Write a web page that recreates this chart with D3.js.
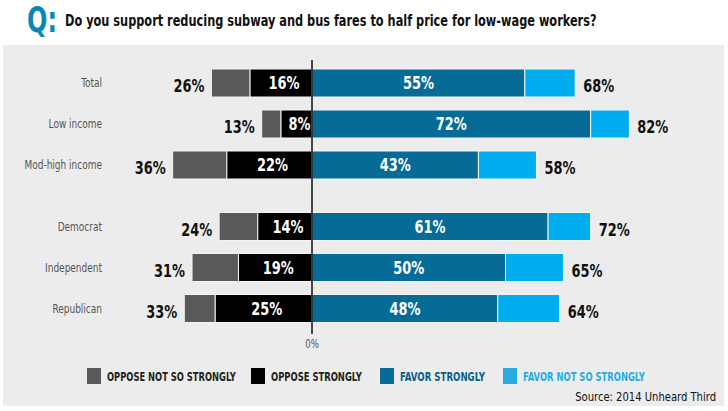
<!DOCTYPE html>
<html lang="en">
<head>
<meta charset="UTF-8">
<title>Half-price fares</title>
<script src="https://d3js.org/d3.v7.min.js"></script>
<style>
	body { margin: 0; padding: 0; background: #fff; }
	svg { display: block; }
	text { font-family: "Liberation Sans Narrow", "DejaVu Sans Condensed", "Arial Narrow", sans-serif; font-stretch: condensed; }
</style>
</head>
<body>
<div id="chart"></div>
<script>
	const categories = ["Total", "Low income", "Mod-high income", "Democrat", "Independent", "Republican"];
	const groups = [0, 0, 0, 1, 1, 1];
	const opposeTotal = [26, 13, 36, 24, 31, 33];
	const opposeStrong = [16, 8, 22, 14, 19, 25];
	const favorStrong = [55, 72, 43, 61, 50, 48];
	const favorTotal = [68, 82, 58, 72, 65, 64];
	const legendLabels = ["OPPOSE NOT SO STRONGLY", "OPPOSE STRONGLY", "FAVOR STRONGLY", "FAVOR NOT SO STRONGLY"];

	const colors = {
		opposeSoft: "#58595b",
		opposeStrong: "#000000",
		favorStrong: "#066b96",
		favorSoft: "#00aeef"
	};

	const width = 728, height = 411;
	const squeeze = 0.8; // fake a condensed face

	const svg = d3.select("#chart").append("svg")
		.attr("width", width)
		.attr("height", height);

	// squeeze a text horizontally so it spans w pixels from (px, py)
	function fitText(sel, px, py, w, anchor) {
		const natural = sel.node().getComputedTextLength();
		const k = w / natural;
		sel.attr("text-anchor", anchor || "start")
			.attr("transform", `translate(${px},${py}) scale(${k},1)`);
		return sel;
	}

	// panel
	svg.append("rect")
		.attr("x", 3).attr("y", 45)
		.attr("width", 721).attr("height", 361)
		.attr("fill", "#ececec");

	// title
	const q = svg.append("text")
		.attr("font-size", 35).attr("font-weight", "bold")
		.attr("fill", "#0a86b6")
		.text("Q:");
	fitText(q, 27, 32, 30);
	const title = svg.append("text")
		.attr("font-size", 16).attr("font-weight", "bold")
		.attr("fill", "#111")
		.text("Do you support reducing subway and bus fares to half price for low-wage workers?");
	fitText(title, 65, 26, 532);

	const x = d3.scaleLinear().domain([-40, 100]).range([312 - 40 * 3.87, 312 + 100 * 3.87]);
	const y = d3.scaleLinear().domain([0, 1]).range([83, 124]);
	const barH = 28;

	const rows = categories.map((c, i) => ({
		name: c,
		pos: i + groups[i] * 0.5,
		ot: opposeTotal[i], os: opposeStrong[i], fs: favorStrong[i], ft: favorTotal[i]
	}));

	const at = (px, py) => `translate(${px},${py}) scale(${squeeze},1)`;

	const g = svg.append("g");

	const row = g.selectAll("g.row").data(rows).enter().append("g").attr("class", "row");

	// category labels
	row.append("text")
		.attr("transform", d => at(102, y(d.pos) + 4))
		.attr("text-anchor", "end")
		.attr("font-size", 12.5)
		.attr("fill", "#555")
		.text(d => d.name);

	const segs = [
		{ key: "opposeSoft", x0: d => -d.ot, x1: d => -d.os },
		{ key: "opposeStrong", x0: d => -d.os, x1: d => 0 },
		{ key: "favorStrong", x0: d => 0, x1: d => d.fs },
		{ key: "favorSoft", x0: d => d.fs, x1: d => d.ft }
	];

	segs.forEach(s => {
		row.append("rect")
			.attr("x", d => x(s.x0(d)))
			.attr("y", d => y(d.pos) - barH / 2)
			.attr("width", d => x(s.x1(d)) - x(s.x0(d)))
			.attr("height", barH)
			.attr("fill", colors[s.key])
			.attr("stroke", "#f4f4f4")
			.attr("stroke-width", 1);
	});

	// inner labels
	row.append("text")
		.attr("transform", d => at((x(-d.os) + x(0)) / 2 + 3, y(d.pos) + 6))
		.attr("text-anchor", "middle")
		.attr("font-size", 18).attr("font-weight", "bold")
		.attr("fill", "#fff")
		.text(d => d.os + "%");
	row.append("text")
		.attr("transform", d => at((x(0) + x(d.fs)) / 2, y(d.pos) + 6))
		.attr("text-anchor", "middle")
		.attr("font-size", 18).attr("font-weight", "bold")
		.attr("fill", "#fff")
		.text(d => d.fs + "%");

	// outer labels
	row.append("text")
		.attr("transform", d => at(x(-d.ot) - 7, y(d.pos) + 9))
		.attr("text-anchor", "end")
		.attr("font-size", 18).attr("font-weight", "bold")
		.attr("fill", "#111")
		.text(d => d.ot + "%");
	row.append("text")
		.attr("transform", d => at(x(d.ft) + 8, y(d.pos) + 9))
		.attr("font-size", 18).attr("font-weight", "bold")
		.attr("fill", "#111")
		.text(d => d.ft + "%");

	// zero line
	g.append("line")
		.attr("x1", x(0)).attr("x2", x(0))
		.attr("y1", 60).attr("y2", 334)
		.attr("stroke", "#111").attr("stroke-width", 1.5);
	g.append("text")
		.attr("transform", at(x(0), 348))
		.attr("text-anchor", "middle")
		.attr("font-size", 12)
		.attr("fill", "#555")
		.text("0%");

	// legend
	const legendX = [87, 251, 380, 503];
	const legendW = [129, 91, 85, 122];
	const legendKeys = ["opposeSoft", "opposeStrong", "favorStrong", "favorSoft"];
	const legend = svg.append("g").selectAll("g").data(legendLabels).enter().append("g")
		.attr("transform", (d, i) => `translate(${legendX[i]},368)`);
	legend.append("rect")
		.attr("width", 14).attr("height", 16)
		.attr("fill", (d, i) => i === 3 ? "#29abe2" : colors[legendKeys[i]]);
	legend.append("text")
		.attr("font-size", 12).attr("font-weight", "bold")
		.attr("fill", (d, i) => i === 3 ? "#29abe2" : (i === 2 ? "#0b5f86" : "#231f20"))
		.text(d => d)
		.each(function (d, i) { fitText(d3.select(this), 20, 13, legendW[i]); });

	const source = svg.append("text")
		.attr("font-size", 12)
		.attr("fill", "#111")
		.text("Source: 2014 Unheard Third");
	fitText(source, 716, 401, 141, "end");
</script>
</body>
</html>
